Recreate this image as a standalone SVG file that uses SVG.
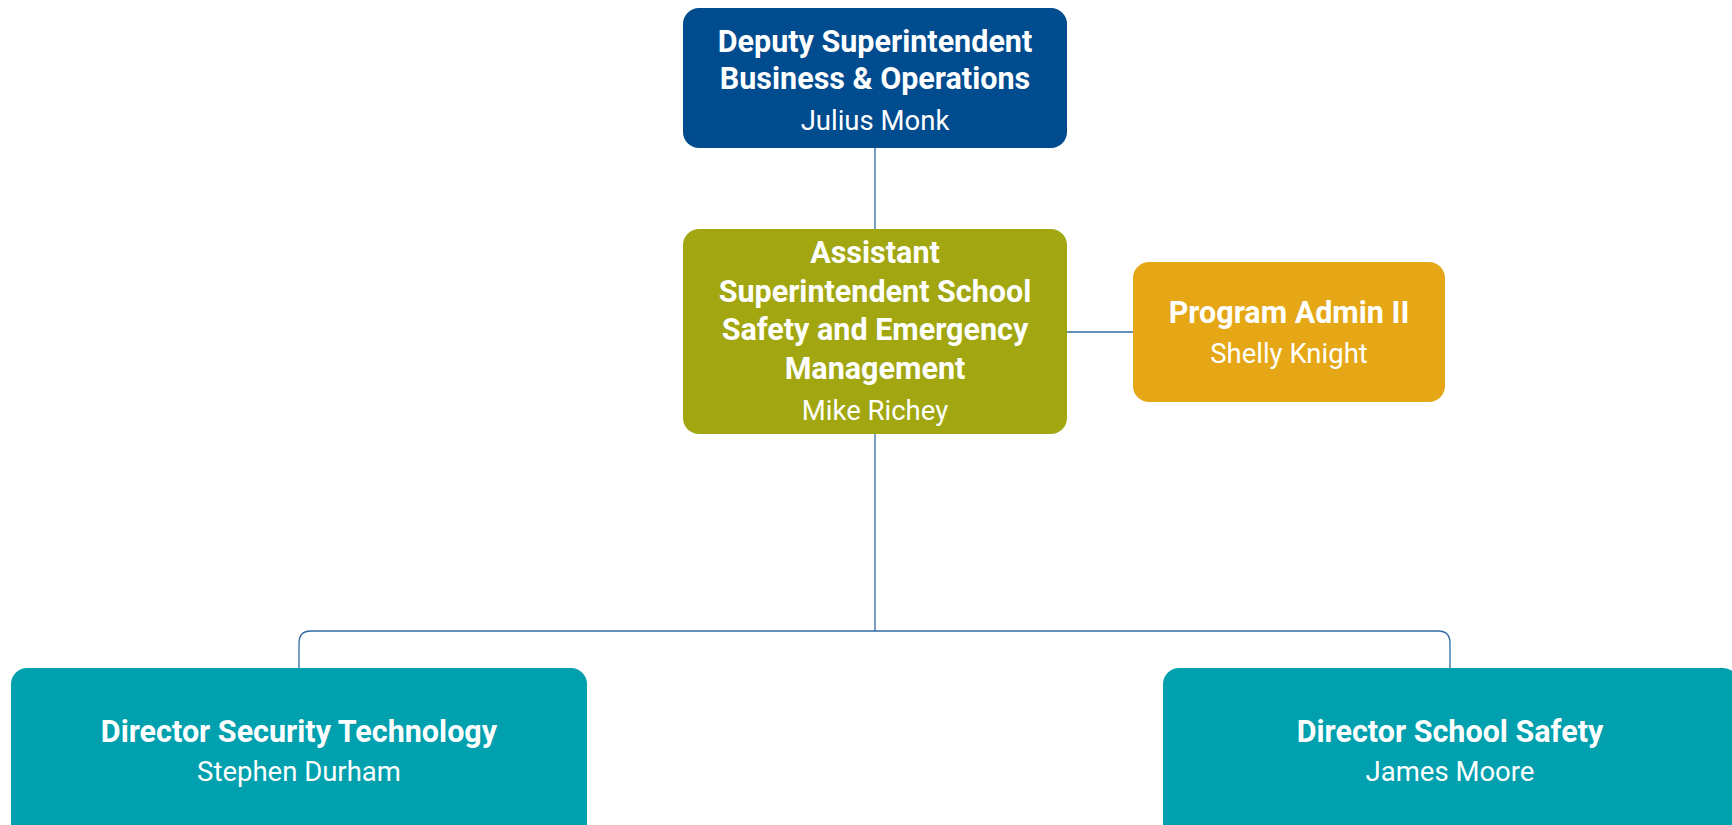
<svg xmlns="http://www.w3.org/2000/svg" width="1732" height="825" viewBox="0 0 1732 825">
<style>
text{font-family:Roboto,"Liberation Sans",sans-serif;fill:#fff;text-anchor:middle}
.t{font-weight:bold;font-size:30.5px}
.n{font-size:27.5px}
.c{fill:none;stroke:#2f6aa3;stroke-width:1.3}
</style>
<rect width="1732" height="825" fill="#fff"/>
<g id="connectors">
<path class="c" d="M875 148V229"/>
<path class="c" d="M875 434V631"/>
<path class="c" d="M1067 332H1133"/>
<path class="c" d="M299 668V643Q299 631 311 631H1438Q1450 631 1450 643V668"/>
</g>
<g id="deputy">
<rect x="683" y="8" width="384" height="140" rx="16" fill="#004c8f"/>
<text class="t" x="875" y="52">Deputy Superintendent</text>
<text class="t" x="875" y="89">Business &amp; Operations</text>
<text class="n" x="875" y="130">Julius Monk</text>
</g>
<g id="assistant">
<rect x="683" y="229" width="384" height="205" rx="16" fill="#a2a711"/>
<text class="t" x="875" y="263">Assistant</text>
<text class="t" x="875" y="302">Superintendent School</text>
<text class="t" x="875" y="340">Safety and Emergency</text>
<text class="t" x="875" y="379">Management</text>
<text class="n" x="875" y="420">Mike Richey</text>
</g>
<g id="admin">
<rect x="1133" y="262" width="312" height="140" rx="16" fill="#e5a716"/>
<text class="t" x="1289" y="323">Program Admin II</text>
<text class="n" x="1289" y="363">Shelly Knight</text>
</g>
<g id="dirtech">
<rect x="11" y="668" width="576" height="180" rx="16" fill="#00a0ae"/>
<text class="t" x="299" y="742">Director Security Technology</text>
<text class="n" x="299" y="781">Stephen Durham</text>
</g>
<g id="dirsafety">
<rect x="1163" y="668" width="576" height="180" rx="16" fill="#00a0ae"/>
<text class="t" x="1450" y="742">Director School Safety</text>
<text class="n" x="1450" y="781">James Moore</text>
</g>
</svg>
